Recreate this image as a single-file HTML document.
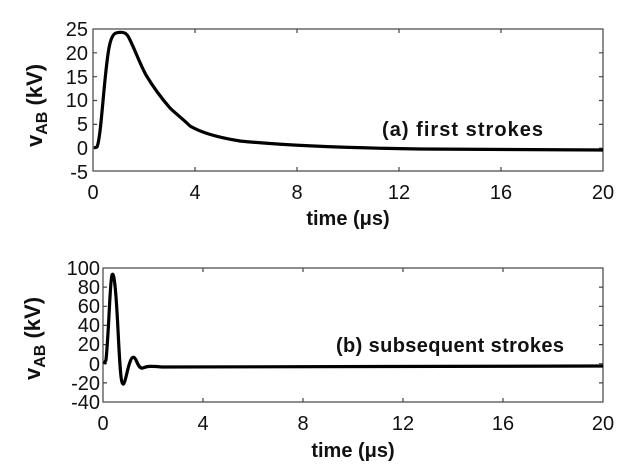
<!DOCTYPE html>
<html><head><style>body{margin:0;background:#fff}svg{display:block}text{font-family:"Liberation Sans",Arial,sans-serif;fill:#111}</style></head><body>
<svg width="636" height="469" viewBox="0 0 636 469">
<g stroke="#444" stroke-width="1.2" fill="none">
<rect x="93" y="29" width="510" height="142"/>
<path d="M195,171v-4M297,171v-4M399,171v-4M501,171v-4M195,29v4M297,29v4M399,29v4M501,29v4M93,52.8h4M93,76.7h4M93,100.5h4M93,124.4h4M93,148.2h4M603,52.8h-4M603,76.7h-4M603,100.5h-4M603,124.4h-4M603,148.2h-4"/>
<rect x="103" y="268" width="500" height="134"/>
<path d="M203,402v-4M303,402v-4M403,402v-4M503,402v-4M203,268v4M303,268v4M403,268v4M503,268v4M103,287.1h4M103,306.3h4M103,325.4h4M103,344.6h4M103,363.7h4M103,382.9h4M603,287.1h-4M603,306.3h-4M603,325.4h-4M603,344.6h-4M603,363.7h-4M603,382.9h-4"/>
</g>
<g stroke="#000" stroke-width="3.2" fill="none" stroke-linejoin="round">
<path d="M94,148 L97,147 C100,140 102,110 105,80 C108,50 110,35 116,33 C124,31 127,33 130,40 C135,50 140,64 146,75 C155,90 163,100 170,108 C176,114 182,118 190,126 C200,132 215,137 240,141 C290,146 350,148 420,149 C500,150 560,150 603,150"/>
<path d="M104,364 L106,360 C109,330 110,280 112,275 C114,270 116,290 118,330 C120,370 121,383 123,384 C125,385 127,370 130,362 C132,356 134,356 136,360 C138,365 140,369 143,368 C147,366 152,366 162,367 C200,367 300,366 603,366"/>
</g>
<g font-size="20" text-anchor="middle">
<text x="93" y="199">0</text><text x="195" y="199">4</text><text x="297" y="199">8</text><text x="399" y="199">12</text><text x="501" y="199">16</text><text x="603" y="199">20</text>
<text x="103" y="430">0</text><text x="203" y="430">4</text><text x="303" y="430">8</text><text x="403" y="430">12</text><text x="503" y="430">16</text><text x="603" y="430">20</text>
</g>
<g font-size="20" text-anchor="end">
<text x="88" y="36">25</text><text x="88" y="60">20</text><text x="88" y="84">15</text><text x="88" y="107">10</text><text x="88" y="131">5</text><text x="88" y="155">0</text><text x="88" y="179">-5</text>
<text x="100" y="275">100</text><text x="100" y="294">80</text><text x="100" y="313">60</text><text x="100" y="332">40</text><text x="100" y="351">20</text><text x="100" y="371">0</text><text x="100" y="390">-20</text><text x="100" y="409">-40</text>
</g>
<g font-size="20" font-weight="bold">
<text x="348" y="225" text-anchor="middle">time (μs)</text>
<text x="353" y="457" text-anchor="middle">time (μs)</text>
<text x="382" y="136" textLength="161">(a) first strokes</text>
<text x="336" y="352" textLength="228">(b) subsequent strokes</text>
<text font-size="22" transform="translate(42,147) rotate(-90)">v<tspan font-size="16" dy="5">AB</tspan><tspan dy="-5"> (kV)</tspan></text>
<text font-size="22" transform="translate(40,380) rotate(-90)">v<tspan font-size="16" dy="5">AB</tspan><tspan dy="-5"> (kV)</tspan></text>
</g>
</svg>
</body></html>
